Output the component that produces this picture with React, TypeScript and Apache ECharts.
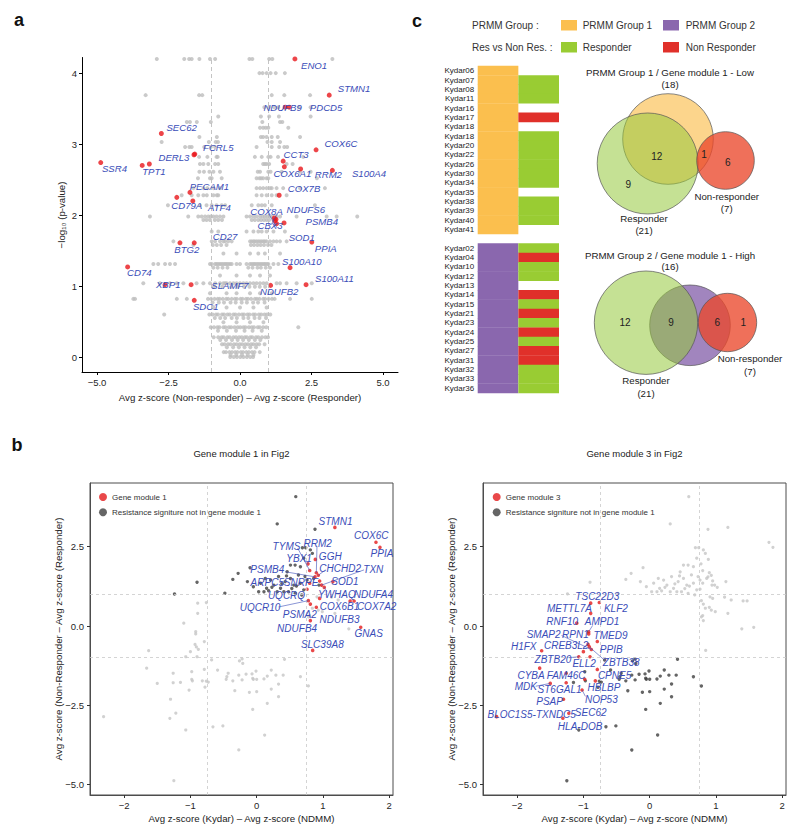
import React, { useEffect, useRef } from 'react';
import * as echarts from 'echarts';

const FONT = '"Liberation Sans", Arial, Helvetica, sans-serif';
const BLUE = '#3A4DB8';
const RED_A = '#E8161B';
const GRAY_A = '#BDBDBD';
const RED_B = '#E41A1C';
const DARK_B = '#3E3E3E';
const LIGHT_B = '#C6C6C6';

// ---------------- panel a : volcano ----------------
const volcanoGenes = ['ENO1','STMN1','NDUFB9','PDCD5','SEC62','COX6C','FCRL5','DERL3','CCT3','SSR4','TPT1','COX6A1','RRM2','S100A4','PECAM1','COX7B','CD79A','ATF4','COX8A','NDUFS6','CBX3','PSMB4','SOD1','PPIA','CD27','BTG2','S100A10','CD74','XBP1','SLAMF7','NDUFB2','S100A11','SDC1'];
const volcanoX = [1.92,3.12,1.58,1.72,-2.75,2.66,-1.58,-1.61,1.51,-4.87,-3.42,1.55,2.12,3.23,-1.75,1.37,-2.21,-1.65,1.20,1.26,1.22,1.54,1.28,2.51,-1.60,-2.10,1.75,-3.93,-2.62,-1.71,1.07,2.31,-1.60];
const volcanoY = [4.20,3.69,3.52,3.52,3.15,2.92,2.86,2.85,2.76,2.74,2.70,2.68,2.65,2.63,2.32,2.28,2.25,2.20,1.96,1.94,1.92,1.89,1.88,1.62,1.61,1.61,1.26,1.27,1.02,1.02,1.01,1.02,0.80];
const volcanoExtraRed = [[-3.17, 2.72]];
const volcanoBandLevels = [4.20,4.00,3.69,3.52,3.39,3.31,3.23,3.10,3.03,2.96,2.82,2.72,2.61,2.52,2.38,2.28,2.14,1.98,1.93,1.77,1.63,1.58,1.46,1.31,1.26,1.15,1.04,0.99,0.90,0.82,0.77,0.70,0.60,0.55,0.49,0.42,0.37,0.28,0.24,0.18,0.14,0.07,0.03,0.0];
const volcanoBandX = [
  [-2.91,-1.95,-1.78,-1.69,-1.42,-1.05,-0.87,0.33,0.43,1.02,1.13,3.23],
  [0.68,0.79,0.93,1.07,1.25,1.57],
  [-3.30,-1.43,-1.32,1.11,1.55,2.45],
  [0.85,1.01,1.20,1.34,2.06,2.47],
  [-0.76,0.73,1.02,1.36,2.47],
  [-1.86,-1.75,-1.51,-1.02,0.78,1.40,1.48],
  [0.70,0.81,0.90,0.99,1.69],
  [-1.42,-0.81,0.73,0.81,0.93,1.11,1.32,2.10],
  [-2.74,-1.09,-0.85,-0.77,0.96,1.11,1.40],
  [-1.92,-1.77,-1.69,-1.25,-1.02,-0.87,0.58,1.11,1.37,1.55,1.65],
  [-1.43,-1.14,-0.82,-0.78,0.52,0.76,0.99,1.07,1.33,2.21],
  [-1.40,-1.28,-1.11,-0.87,-0.76,0.81,0.87,0.93,1.02,1.63,1.84],
  [-1.42,-1.26,-1.07,-0.93,-0.70,0.62,0.70,0.99,1.07,1.46,2.10,2.47],
  [-1.47,-1.05,-0.99,-0.64,0.58,0.68,0.74,0.81,0.93,0.99,2.69],
  [-1.63,-1.28,-1.14,-0.93,-0.70,0.58,0.70,0.81,0.93,1.05,1.11,1.28,1.51,2.10,2.97],
  [-2.04,-1.69,-1.46,-1.28,-1.16,-0.93,-0.81,-0.76,0.58,0.76,0.93,1.11,1.28,1.63],
  [-2.52,-1.40,-1.17,-0.99,-0.82,-0.64,-0.52,0.41,0.64,0.76,0.87,1.11,2.62],
  [-3.15,-1.81,-1.46,-1.34,-1.22,-1.11,-1.02,-0.93,-0.82,-0.70,-0.58,0.23,0.35,0.47,0.58,0.70,0.79,0.87,0.96,1.05,1.13,1.28,1.40,1.98,3.03,3.38,4.10],
  [-1.28,-1.17,-1.05,-0.88,-0.76,-0.63,0.41,0.52,0.64,0.74,0.84,0.93,1.02,1.17],
  [-0.99,-0.76,0.23,0.47,0.64,0.76,0.93,1.17,1.57],
  [-2.33,-0.99,-0.87,-0.70,-0.58,-0.52,-0.41,-0.29,0.35,0.41,0.47,0.52,0.58,0.64,0.70,0.76,0.82,0.87,0.93,1.05,1.17,1.28,1.40,1.63],
  [-1.63,-0.95,-0.81,-0.66,-0.47,0.38,0.49,0.61,0.72,0.84,0.98,1.10],
  [-0.58,-0.12,0.35,0.64,0.87,1.40],
  [-3.03,-2.86,-2.62,-2.45,-2.27,-1.05,-0.99,-0.87,-0.82,-0.76,-0.70,-0.64,-0.58,-0.52,-0.47,-0.41,-0.35,-0.29,-0.12,0.0,0.23,0.35,0.41,0.47,0.52,0.58,0.64,0.70,0.76,0.82,0.87,0.93,0.99,1.17,1.34],
  [-0.93,-0.78,-0.61,-0.44,0.29,0.44,0.61,0.73,0.90,1.05],
  [-0.70,-0.12,0.35,0.70,1.05],
  [-3.38,-2.80,-2.45,-2.21,-1.98,-1.52,-1.28,-1.05,-0.87,-0.70,-0.58,-0.52,-0.47,-0.35,-0.23,-0.12,0.0,0.12,0.23,0.35,0.47,0.58,0.70,0.82,0.93,1.28,1.40,1.63,1.98,2.51],
  [-0.91,-0.62,-0.31,-0.09,0.14,0.33,0.52,0.69,0.88],
  [-1.05,-0.47,-0.12,0.35,0.70,1.11],
  [-3.73,-3.67,-2.21,-1.86,-1.12,-1.01,-0.89,-0.78,-0.71,-0.60,-0.48,-0.41,-0.29,-0.18,-0.11,0.02,0.09,0.21,0.28,0.39,0.52,0.59,0.68,0.81,0.88,1.0,1.12,1.21,1.75,2.51],
  [-0.96,-0.74,-0.56,-0.33,-0.15,0.06,0.24,0.46,0.63,0.86],
  [-0.93,-0.47,0.0,0.47,0.93],
  [-2.65,-1.07,-0.96,-0.84,-0.77,-0.63,-0.56,-0.44,-0.36,-0.23,-0.16,-0.04,0.07,0.14,0.26,0.33,0.46,0.53,0.66,0.74,0.86,0.95,1.06],
  [-0.88,-0.69,-0.52,-0.29,-0.11,0.12,0.29,0.51,0.68,0.91],
  [-0.58,-0.12,0.35,0.82],
  [-1.02,-0.91,-0.79,-0.72,-0.58,-0.51,-0.39,-0.31,-0.19,-0.08,0.01,0.12,0.19,0.31,0.41,0.49,0.62,0.69,0.81,0.92,2.04],
  [-0.77,-0.46,-0.14,0.16,0.44,0.76],
  [-0.92,-0.76,-0.64,-0.57,-0.44,-0.36,-0.23,-0.14,-0.03,0.06,0.17,0.24,0.36,0.43,0.56,0.64,0.77,0.89,0.98],
  [-0.69,-0.49,-0.28,-0.08,0.11,0.31,0.52,0.71],
  [-0.63,-0.54,-0.42,-0.33,-0.21,-0.12,-0.01,0.08,0.19,0.28,0.39,0.47,0.58,0.67,0.86],
  [-0.46,-0.24,-0.04,0.16,0.36,0.56],
  [-0.57,-0.49,-0.37,-0.28,-0.17,-0.09,0.03,0.11,0.22,0.31,0.42,0.51,0.69],
  [-0.33,-0.13,0.07,0.27,0.47],
  [-0.34,-0.22,-0.11,0.01,0.12,0.24,0.36,0.46],
];
const volcanoThresholds = [-1, 1];
const volcanoXTicks = [-5, -2.5, 0, 2.5, 5];
const volcanoYTicks = [0, 1, 2, 3, 4];

// ---------------- panel b : shared gene scatter ----------------
const module1Genes = ['STMN1','COX6C','PPIA','TYMS','RRM2','YBX1','GGH','CHCHD2','TXN','PSMB4','SOD1','ARPC5','SNRPE','YWHAQ','UQCRQ','NDUFA4','COX7A2','COX6B1','UQCR10','PSMA2','NDUFB3','NDUFB4','GNAS','SLC39A8'];
const module1X = [1.18,1.80,1.86,0.80,0.90,0.775,0.885,0.93,0.98,0.88,1.15,0.80,0.95,1.02,0.76,1.41,1.47,0.95,0.78,0.81,0.90,0.81,1.57,0.845];
const module1Y = [3.11,2.64,2.48,1.75,1.68,1.96,2.10,1.60,1.29,1.55,1.40,1.35,1.42,1.22,1.16,0.79,0.79,0.87,0.80,0.69,0.59,0.17,-0.04,-0.77];
const sigNotModule1 = [
  [0.59,4.08],[0.31,3.22],[0.88,3.05],[0.69,2.47],[0.74,2.47],[0.84,2.29],[0.81,2.40],[0.66,1.87],[0.71,2.14],
  [0.51,1.92],[0.58,1.92],[-0.10,1.84],[-0.28,1.66],[-0.36,1.47],[-0.48,1.03],[-0.90,1.38],[-1.24,1.01],
  [0.06,1.35],[0.13,1.50],[0.21,1.45],[0.26,1.29],[0.33,1.56],[0.36,1.19],[0.43,1.40],[0.46,1.71],[0.51,1.50],
  [0.56,1.29],[0.63,1.61],[0.66,1.35],[0.71,1.14],[0.73,1.56],[0.76,1.45],[0.41,1.08],[0.31,1.08],[0.18,1.11],
  [0.11,1.08],[0.03,1.08],[-0.05,1.24],[-0.14,1.40],[0.48,1.08],[0.58,1.03],[0.68,0.98],[0.86,1.50],[0.94,1.29],
  [0.23,1.22],[0.38,1.33],[0.53,1.18],[0.60,1.26],[0.45,1.58],[0.15,1.19],
];
const module3Genes = ['TSC22D3','KLF2','METTL7A','RNF10','AMPD1','SMAP2','RPN1','TMED9','H1FX','CREB3L2','PPIB','ZBTB20','ELL2','ZBTB38','CYBA','FAM46C','CPNE5','MDK','ST6GAL1','HBLBP','NOP53','PSAP','BLOC1S5-TXNDC5','SEC62','HLA-DOB'];
const module3X = [-0.89,-0.76,-0.89,-1.10,-0.92,-0.88,-0.92,-0.79,-1.63,-0.93,-1.00,-1.07,-0.90,-0.91,-1.66,-1.26,-0.79,-1.50,-0.98,-0.82,-1.02,-1.30,-2.31,-1.22,-1.31];
const module3Y = [0.72,0.74,0.40,0.09,-0.18,-0.74,-0.25,-0.49,-0.78,-0.58,-0.81,-0.97,-0.97,-0.66,-1.33,-1.49,-1.37,-1.81,-1.68,-1.73,-2.02,-2.31,-2.86,-2.75,-2.91];
const module3Extra = [[-1.26,-1.79]];
const sigNotModule3 = [
  [-0.68,-1.07],[-0.26,-1.10],[-0.21,-1.18],[-0.22,-1.04],[0.42,-1.05],[-0.98,-1.44],[-1.15,-1.78],[-0.78,-1.93],
  [-0.76,-1.74],[-0.73,-1.77],[-0.59,-1.39],[-0.46,-1.68],[-0.43,-1.49],[-0.45,-1.60],[-0.36,-1.73],[-0.33,-2.04],
  [-0.27,-1.55],[-0.22,-1.70],[-0.16,-1.52],[-0.11,-2.09],[-0.07,-1.51],[-0.06,-1.65],[-0.05,-1.68],[-0.01,-1.42],
  [0.0,-1.68],[0.0,-2.07],[-0.06,-2.63],[0.11,-1.67],[0.16,-1.58],[0.22,-1.39],[0.22,-1.99],[0.29,-1.55],[0.33,-1.83],
  [0.33,-2.23],[0.40,-1.55],[0.16,-2.44],[0.12,-3.44],[0.66,-1.60],[0.78,-1.89],[-1.07,-3.28],[-0.66,-3.18],
  [-0.51,-3.15],[-0.27,-3.91],[-1.25,-4.88],[-0.97,-1.73],
];
const otherGenes = [[0.91,0.92],[1.13,0.91],[1.23,0.82],[1.18,0.40],[1.39,-0.09],[0.84,0.56],[0.93,0.50],[0.78,0.29],[0.99,0.45],[0.80,0.33]];
const bXThresholds = [-0.75, 0.75];
const bYThresholds = [-1, 1];
const bXTicks = [-2, -1, 0, 1, 2];
const bYTicks = [-5, -2.5, 0, 2.5];

// ---------------- panel c ----------------
const group1Samples = ['Kydar06','Kydar07','Kydar08','Kydar11','Kydar16','Kydar17','Kydar18','Kydar18','Kydar20','Kydar22','Kydar26','Kydar30','Kydar34','Kydar35','Kydar38','Kydar39','Kydar40','Kydar41'];
const group1Response = ['','R','R','R','','N','','R','R','R','R','R','R','','R','R','R',''];
const group2Samples = ['Kydar02','Kydar04','Kydar10','Kydar12','Kydar13','Kydar14','Kydar15','Kydar21','Kydar23','Kydar24','Kydar25','Kydar27','Kydar31','Kydar32','Kydar33','Kydar36'];
const group2Response = ['R','N','R','R','','N','R','N','R','N','R','N','N','R','R','R'];
const vennTitles = ['PRMM Group 1 / Gene module 1 - Low', 'PRMM Group 2 / Gene module 1 - High'];
const vennGroupSizes = [18, 16];
const responderTotal = 21;
const nonResponderTotal = 7;
// [responder only, responder ∩ group, group ∩ non-responder, non-responder only]
const venn1Counts = [9, 12, 1, 6];
const venn2Counts = [12, 9, 6, 1];

// ---------------- layout-only (label placement) ----------------
const volcanoLabelPos = [[2.59,4.11],[3.99,3.78],[1.49,3.52],[3.01,3.52],[-2.04,3.24],[3.53,3.01],[-0.76,2.95],[-2.31,2.81],[1.96,2.86],[-4.39,2.65],[-3.01,2.61],[1.83,2.59],[3.09,2.57],[4.51,2.59],[-1.07,2.40],[2.24,2.37],[-1.86,2.14],[-0.72,2.11],[0.93,2.05],[2.30,2.08],[1.05,1.86],[2.86,1.91],[2.16,1.69],[3.0,1.53],[-0.52,1.70],[-1.86,1.52],[2.16,1.34],[-3.52,1.19],[-2.51,1.02],[-0.35,1.01],[1.37,0.93],[3.30,1.11],[-1.20,0.71]];
const volcanoSegments = [[[1.00,2.02],[1.30,1.82]],[[1.28,2.00],[1.08,1.86]]];
const module1LabelPos = [[1.19,3.29],[1.73,2.85],[1.89,2.29],[0.45,2.52],[0.92,2.61],[0.64,2.14],[1.11,2.19],[1.26,1.80],[1.76,1.79],[0.16,1.77],[1.33,1.39],[0.16,1.37],[0.67,1.37],[1.21,1.00],[0.45,0.97],[1.76,1.00],[1.81,0.61],[1.25,0.61],[0.05,0.59],[0.65,0.35],[1.25,0.21],[0.61,-0.07],[1.69,-0.25],[0.99,-0.57]];
const module1Segments = [[[0.62,2.45],[0.80,1.75]],[[0.91,2.52],[0.90,1.68]],[[1.02,1.74],[0.93,1.60]],[[1.62,1.77],[0.98,1.29]],[[0.43,1.71],[0.88,1.55]],[[1.06,1.08],[1.02,1.22]],[[0.33,0.60],[0.78,0.80]],[[0.74,2.06],[0.775,1.96]]];
const module3LabelPos = [[-0.79,0.93],[-0.51,0.56],[-1.21,0.56],[-1.32,0.14],[-0.72,0.14],[-1.60,-0.26],[-1.12,-0.26],[-0.59,-0.30],[-1.90,-0.65],[-1.26,-0.62],[-0.58,-0.73],[-1.46,-1.05],[-0.99,-1.18],[-0.43,-1.15],[-1.79,-1.55],[-1.26,-1.55],[-0.53,-1.55],[-1.87,-1.91],[-1.36,-2.00],[-0.69,-1.95],[-0.73,-2.33],[-1.51,-2.37],[-1.78,-2.79],[-0.89,-2.73],[-1.05,-3.18]];
const module3Segments = [[[-0.86,0.02],[-0.92,-0.18]],[[-1.33,-0.30],[-0.88,-0.74]],[[-1.22,-1.00],[-1.07,-0.97]],[[-0.68,-1.08],[-0.91,-0.66]],[[-1.72,-1.90],[-1.50,-1.81]],[[-0.97,-2.22],[-1.02,-2.02]]];

const fmt1 = (v: number) => (v < 0 ? '\u2212' : '') + Math.abs(v).toFixed(1);
const fmt0 = (v: number) => (v < 0 ? '\u2212' : '') + Math.abs(v).toFixed(0);
const tickText = { fontFamily: FONT, fontSize: 9.5, color: '#1f1f1f' };

function txt(text: string, x: number, y: number, o: any = {}) {
  return {
    type: 'text', x, y, rotation: o.rotation || 0, silent: true,
    style: {
      text, fill: o.fill || '#222', fontSize: o.size || 10, fontFamily: FONT,
      fontWeight: o.weight || 'normal', textAlign: o.align || 'center', align: o.align || 'center',
      textVerticalAlign: 'middle', verticalAlign: 'middle',
    },
  };
}

function buildOption() {
  const volcanoGray = volcanoBandLevels.flatMap((y, i) => volcanoBandX[i].map((x) => [x, y]));
  const volcanoRed = volcanoGenes.map((_, i) => [volcanoX[i], volcanoY[i]]).concat(volcanoExtraRed);
  const m1Pts = module1Genes.map((_, i) => [module1X[i], module1Y[i]]);
  const m3Pts = module3Genes.map((_, i) => [module3X[i], module3Y[i]]).concat(module3Extra);
  const leftGray = [...m3Pts, ...sigNotModule3, ...otherGenes];
  const rightGray = [...m1Pts, ...sigNotModule1, ...otherGenes];

  // heatmap rows
  const rowLabels = [...group1Samples, '', ...group2Samples];
  const cells: number[][] = [];
  group1Samples.forEach((_, i) => {
    cells.push([0, i, 0]);
    if (group1Response[i]) cells.push([1, i, group1Response[i] === 'R' ? 2 : 3]);
  });
  const off = group1Samples.length + 1;
  group2Samples.forEach((_, i) => {
    cells.push([0, off + i, 1]);
    if (group2Response[i]) cells.push([1, off + i, group2Response[i] === 'R' ? 2 : 3]);
  });
  const cellColors = ['#FBBF4E', '#8A67AE', '#99CC33', '#E0302A'];

  const labelSeries = (xi: number, names: string[], pos: number[][], size: number) => ({
    type: 'scatter', xAxisIndex: xi, yAxisIndex: xi, symbolSize: 1, silent: true, z: 6,
    itemStyle: { color: '#ffffff', opacity: 1 }, emphasis: { disabled: true },
    data: names.map((n, i) => ({ name: n, value: pos[i] })),
    label: {
      show: true, position: 'inside', formatter: '{b}', color: BLUE, opacity: 1,
      textBorderWidth: 0, textBorderColor: 'transparent', textShadowBlur: 0,
      fontSize: size, fontStyle: 'italic', fontFamily: FONT,
    },
  });
  const segSeries = (xi: number, segs: number[][][]) => ({
    type: 'lines', coordinateSystem: 'cartesian2d', xAxisIndex: xi, yAxisIndex: xi, silent: true, z: 5,
    lineStyle: { color: BLUE, width: 0.6, opacity: 1 },
    data: segs.map((s) => ({ coords: s })),
  });
  const bMarkLine = {
    silent: true, symbol: ['none', 'none'], label: { show: false },
    lineStyle: { type: [3, 3], color: '#C9C9C9', width: 0.8 },
    data: [...bXThresholds.map((v) => ({ xAxis: v })), ...bYThresholds.map((v) => ({ yAxis: v }))],
  };

  const bXAxis = (gi: number) => ({
    gridIndex: gi, type: 'value', min: -2.515, max: 2.057,
    axisLine: { show: true, onZero: false, lineStyle: { color: '#4d4d4d' } },
    axisTick: { show: true, length: 3, customValues: bXTicks, lineStyle: { color: '#333' } },
    axisLabel: { customValues: bXTicks, formatter: fmt0, margin: 5, ...tickText },
    splitLine: { show: false },
  });
  const bYAxis = (gi: number) => ({
    gridIndex: gi, type: 'value', min: -5.33, max: 4.51,
    axisLine: { show: true, onZero: false, lineStyle: { color: '#4d4d4d' } },
    axisTick: { show: true, length: 3, customValues: bYTicks, lineStyle: { color: '#333' } },
    axisLabel: { customValues: bYTicks, formatter: fmt1, margin: 6, ...tickText },
    splitLine: { show: false },
  });

  const legendCommon = {
    orient: 'vertical', icon: 'circle', itemWidth: 8, itemHeight: 8, itemGap: 5.3, selectedMode: false,
    textStyle: { fontFamily: FONT, fontSize: 8, color: '#333', lineHeight: 10 }, padding: 0,
  };

  const strokeV = '#555';
  const graphics: any[] = [
    txt('a', 19, 20, { size: 18, weight: 'bold', fill: '#111' }),
    txt('b', 17, 445, { size: 18, weight: 'bold', fill: '#111' }),
    txt('c', 417, 21, { size: 18, weight: 'bold', fill: '#111' }),
    txt('Avg z-score (Non-responder) \u2013 Avg z-score (Responder)', 240, 397, { size: 9.7 }),
    txt('\u2212log\u2081\u2080 (p-value)', 61, 215, { size: 9.7, rotation: Math.PI / 2 }),
    txt('Gene module 1 in Fig2', 241.5, 453, { size: 9.5 }),
    txt('Gene module 3 in Fig2', 634.5, 453, { size: 9.5 }),
    txt('Avg z-score (Kydar) \u2013 Avg z-score (NDMM)', 241.5, 818, { size: 9.7 }),
    txt('Avg z-score (Kydar) \u2013 Avg z-score (NDMM)', 634.5, 818, { size: 9.7 }),
    txt('Avg z-score (Non-Responder \u2013 Avg z-score (Responder)', 58, 639, { size: 9.7, rotation: Math.PI / 2 }),
    txt('Avg z-score (Non-Responder \u2013 Avg z-score (Responder)', 451.7, 639, { size: 9.7, rotation: Math.PI / 2 }),
    // panel c legend
    txt('PRMM Group :', 472, 25.7, { align: 'left', fill: '#333' }),
    { type: 'rect', shape: { x: 561, y: 20, width: 16, height: 10.5 }, style: { fill: cellColors[0] } },
    txt('PRMM Group 1', 582.7, 25.7, { align: 'left', fill: '#333' }),
    { type: 'rect', shape: { x: 663, y: 20, width: 16, height: 10.5 }, style: { fill: cellColors[1] } },
    txt('PRMM Group 2', 685.7, 25.7, { align: 'left', fill: '#333' }),
    txt('Res vs Non Res. :', 472, 47.3, { align: 'left', fill: '#333' }),
    { type: 'rect', shape: { x: 561, y: 42, width: 16, height: 10.5 }, style: { fill: cellColors[2] } },
    txt('Responder', 582.7, 47.3, { align: 'left', fill: '#333' }),
    { type: 'rect', shape: { x: 663, y: 42, width: 16, height: 10.5 }, style: { fill: cellColors[3] } },
    txt('Non Responder', 685.7, 47.3, { align: 'left', fill: '#333' }),
    // venn 1
    txt(vennTitles[0], 670, 72.7, { size: 9.7 }),
    txt(`(${vennGroupSizes[0]})`, 670, 84.5, { size: 9.7 }),
    { type: 'circle', shape: { cx: 668, cy: 139, r: 45.3 }, style: { fill: 'rgba(251,191,78,0.65)', stroke: strokeV, lineWidth: 0.7 } },
    { type: 'circle', shape: { cx: 647.7, cy: 163.5, r: 50.5 }, style: { fill: 'rgba(150,200,60,0.55)', stroke: strokeV, lineWidth: 0.7 } },
    { type: 'circle', shape: { cx: 725.5, cy: 160.5, r: 28.8 }, style: { fill: 'rgba(234,72,44,0.78)', stroke: strokeV, lineWidth: 0.7 } },
    txt(String(venn1Counts[0]), 628.3, 184, {}),
    txt(String(venn1Counts[1]), 656.7, 156, {}),
    txt(String(venn1Counts[2]), 704, 154.5, {}),
    txt(String(venn1Counts[3]), 727.7, 162.3, {}),
    txt('Non-responder', 726.7, 196, { size: 9.7 }),
    txt(`(${nonResponderTotal})`, 726.7, 208.3, { size: 9.7 }),
    txt('Responder', 644, 218.3, { size: 9.7 }),
    txt(`(${responderTotal})`, 644, 230.7, { size: 9.7 }),
    // venn 2
    txt(vennTitles[1], 670, 255, { size: 9.7 }),
    txt(`(${vennGroupSizes[1]})`, 670, 266.7, { size: 9.7 }),
    { type: 'circle', shape: { cx: 690, cy: 325.3, r: 40.3 }, style: { fill: 'rgba(138,103,174,0.8)', stroke: strokeV, lineWidth: 0.7 } },
    { type: 'circle', shape: { cx: 646, cy: 322.7, r: 51.7 }, style: { fill: 'rgba(150,200,60,0.55)', stroke: strokeV, lineWidth: 0.7 } },
    { type: 'circle', shape: { cx: 727.5, cy: 322.5, r: 29.2 }, style: { fill: 'rgba(234,72,44,0.78)', stroke: strokeV, lineWidth: 0.7 } },
    txt(String(venn2Counts[0]), 625, 322.7, {}),
    txt(String(venn2Counts[1]), 671, 322.7, {}),
    txt(String(venn2Counts[2]), 717.3, 322.7, {}),
    txt(String(venn2Counts[3]), 743.3, 322.7, {}),
    txt('Non-responder', 750, 358.3, { size: 9.7 }),
    txt(`(${nonResponderTotal})`, 750, 371, { size: 9.7 }),
    txt('Responder', 646, 380.7, { size: 9.7 }),
    txt(`(${responderTotal})`, 646, 393, { size: 9.7 }),
  ];

  return {
    animation: false,
    backgroundColor: '#ffffff',
    textStyle: { fontFamily: FONT },
    grid: [
      { left: 82, top: 57.5, width: 316, height: 314.5 },
      { left: 90, top: 483, width: 303, height: 312, show: true, borderColor: '#4d4d4d', borderWidth: 1 },
      { left: 483, top: 483, width: 303, height: 312, show: true, borderColor: '#4d4d4d', borderWidth: 1 },
      { left: 477.7, top: 66, width: 81.3, height: 327 },
    ],
    xAxis: [
      {
        gridIndex: 0, type: 'value', min: -5.525, max: 5.525,
        axisLine: { show: true, onZero: false, lineStyle: { color: '#000', width: 1 } },
        axisTick: { show: true, length: 3, customValues: volcanoXTicks, lineStyle: { color: '#000' } },
        axisLabel: { customValues: volcanoXTicks, formatter: fmt1, margin: 5, ...tickText },
        splitLine: { show: false },
      },
      bXAxis(1),
      bXAxis(2),
      { gridIndex: 3, type: 'category', data: ['group', 'response'], show: false },
    ],
    yAxis: [
      {
        gridIndex: 0, type: 'value', min: -0.21, max: 4.22,
        axisLine: { show: true, onZero: false, lineStyle: { color: '#000', width: 1 } },
        axisTick: { show: true, length: 3, customValues: volcanoYTicks, lineStyle: { color: '#000' } },
        axisLabel: { customValues: volcanoYTicks, formatter: fmt0, margin: 5, ...tickText },
        splitLine: { show: false },
      },
      bYAxis(1),
      bYAxis(2),
      {
        gridIndex: 3, type: 'category', inverse: true, data: rowLabels.map((_, i) => String(i)),
        axisLine: { show: false }, axisTick: { show: false }, splitLine: { show: false },
        axisLabel: { interval: 0, formatter: (v: string) => rowLabels[Number(v)], fontSize: 8, margin: 3.5, color: '#222', fontFamily: FONT },
      },
    ],
    legend: [
      { ...legendCommon, left: 99, top: 492, data: ['Gene module 1', 'Resistance signiture not in gene module 1'] },
      { ...legendCommon, left: 492.7, top: 492, data: ['Gene module 3', 'Resistance signiture not in gene module 1'] },
    ],
    series: [
      // panel a
      {
        type: 'scatter', name: 'other genes', xAxisIndex: 0, yAxisIndex: 0, symbolSize: 4, silent: true, z: 2,
        itemStyle: { color: GRAY_A }, data: volcanoGray,
        markLine: {
          silent: true, symbol: ['none', 'none'], label: { show: false },
          lineStyle: { type: [4, 3], color: '#BDBDBD', width: 0.9 },
          data: volcanoThresholds.map((v) => ({ xAxis: v })),
        },
      },
      {
        type: 'scatter', name: 'labelled genes', xAxisIndex: 0, yAxisIndex: 0, symbolSize: 5, silent: true, z: 3,
        itemStyle: { color: RED_A }, data: volcanoRed,
      },
      segSeries(0, volcanoSegments),
      labelSeries(0, volcanoGenes, volcanoLabelPos, 9.6),
      // panel b left
      {
        type: 'scatter', name: 'others-left', xAxisIndex: 1, yAxisIndex: 1, symbolSize: 3.2, silent: true, z: 2,
        itemStyle: { color: LIGHT_B }, data: leftGray, markLine: bMarkLine,
      },
      {
        type: 'scatter', name: 'Resistance signiture not in gene module 1', xAxisIndex: 1, yAxisIndex: 1, symbolSize: 3.4, silent: true, z: 3,
        itemStyle: { color: DARK_B }, data: sigNotModule1,
      },
      {
        type: 'scatter', name: 'Gene module 1', xAxisIndex: 1, yAxisIndex: 1, symbolSize: 3.6, silent: true, z: 4,
        itemStyle: { color: RED_B }, data: m1Pts,
      },
      segSeries(1, module1Segments),
      labelSeries(1, module1Genes, module1LabelPos, 10),
      // panel b right
      {
        type: 'scatter', name: 'others-right', xAxisIndex: 2, yAxisIndex: 2, symbolSize: 3.2, silent: true, z: 2,
        itemStyle: { color: LIGHT_B }, data: rightGray, markLine: bMarkLine,
      },
      {
        type: 'scatter', name: 'Resistance signiture not in gene module 1', xAxisIndex: 2, yAxisIndex: 2, symbolSize: 3.4, silent: true, z: 3,
        itemStyle: { color: DARK_B }, data: sigNotModule3,
      },
      {
        type: 'scatter', name: 'Gene module 3', xAxisIndex: 2, yAxisIndex: 2, symbolSize: 3.6, silent: true, z: 4,
        itemStyle: { color: RED_B }, data: m3Pts,
      },
      segSeries(2, module3Segments),
      labelSeries(2, module3Genes, module3LabelPos, 10),
      // panel c heatmap
      {
        type: 'custom', name: 'samples', xAxisIndex: 3, yAxisIndex: 3, silent: true, data: cells,
        renderItem: (params: any, api: any) => {
          const c = api.coord([api.value(0), api.value(1)]);
          const s = api.size([1, 1]);
          return {
            type: 'rect',
            shape: { x: c[0] - s[0] / 2, y: c[1] - s[1] / 2 - 0.2, width: s[0], height: s[1] + 0.4 },
            style: { fill: cellColors[api.value(2)] },
          };
        },
      },
    ],
    graphic: { elements: graphics },
  };
}

export default function App() {
  const ref = useRef<HTMLDivElement>(null);
  useEffect(() => {
    if (!ref.current) return;
    const chart = echarts.init(ref.current, null, { renderer: 'svg' });
    chart.setOption(buildOption() as any);
    return () => chart.dispose();
  }, []);
  return (
    <div
      ref={ref}
      style={{ position: 'fixed', left: 0, top: 0, width: 800, height: 837, background: '#fff' }}
    />
  );
}
